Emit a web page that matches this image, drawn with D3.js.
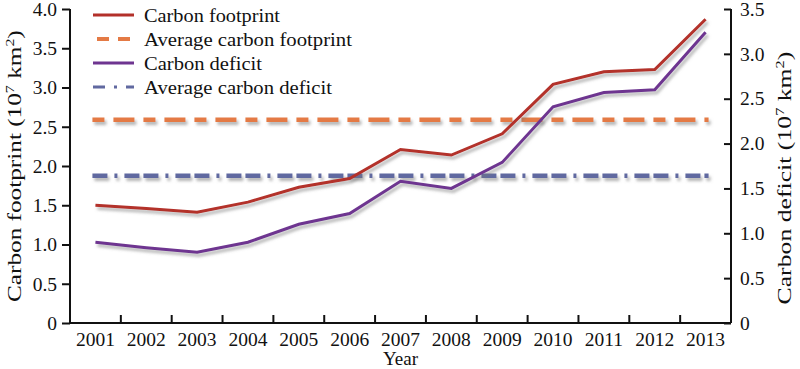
<!DOCTYPE html>
<html>
<head>
<meta charset="utf-8">
<script src="https://cdn.jsdelivr.net/npm/d3@7"></script>
<style>
  body { margin: 0; background: #fff; }
  text { font-family: "Liberation Serif", "Times New Roman", serif; fill: #111; }
</style>
</head>
<body>
<svg id="chart" width="800" height="369"></svg>
<script>
// data
var years = ["2001", "2002", "2003", "2004", "2005", "2006", "2007", "2008", "2009", "2010", "2011", "2012", "2013"];
var footprint = [1.50, 1.46, 1.41, 1.54, 1.73, 1.84, 2.21, 2.14, 2.41, 3.04, 3.20, 3.23, 3.87];
var deficit = [0.90, 0.84, 0.79, 0.90, 1.10, 1.22, 1.58, 1.50, 1.79, 2.41, 2.57, 2.60, 3.24];
var avgFootprint = 2.59;
var avgDeficit = 1.64;
var leftTicks = [0, 0.5, 1.0, 1.5, 2.0, 2.5, 3.0, 3.5, 4.0];
var rightTicks = [0, 0.5, 1.0, 1.5, 2.0, 2.5, 3.0, 3.5];

var margin = { top: 9, right: 69, bottom: 46, left: 70 };
var width = 800 - margin.left - margin.right;
var height = 369 - margin.top - margin.bottom;

var svg = d3.select("#chart");

var defs = svg.append("defs");
var f = defs.append("filter").attr("id", "shadow")
    .attr("filterUnits", "userSpaceOnUse")
    .attr("x", -100).attr("y", -100).attr("width", 1000).attr("height", 600);
f.append("feDropShadow")
    .attr("dx", 2).attr("dy", 3).attr("stdDeviation", 1.4)
    .attr("flood-color", "#777").attr("flood-opacity", 0.55);

var g = svg.append("g")
    .attr("transform", "translate(" + margin.left + "," + margin.top + ")");

var x = d3.scaleBand().domain(years).range([0, width]);
var yL = d3.scaleLinear().domain([0, 4]).range([height, 0]);
var yR = d3.scaleLinear().domain([0, 3.5]).range([height, 0]);

var fmt = function (d) { return d === 0 ? "0" : d3.format(".1f")(d); };

// left axis
var axL = g.append("g")
    .call(d3.axisLeft(yL).tickValues(leftTicks).tickFormat(fmt).tickSize(8).tickPadding(5));
// right axis, ticks inward
var axR = g.append("g").attr("transform", "translate(" + width + ",0)")
    .call(d3.axisRight(yR).tickValues(rightTicks).tickFormat(fmt).tickSize(0).tickPadding(9));
axR.selectAll(".tick line").attr("x1", -7).attr("x2", 0);
// bottom axis, ticks at band edges pointing up
var axB = g.append("g").attr("transform", "translate(0," + height + ")")
    .call(d3.axisBottom(x).tickSize(0).tickPadding(9));
axB.selectAll(".tick text").attr("dy", "0.71em");
axB.selectAll(".edge").data(years.slice(1)).enter().append("line")
    .attr("x1", function (d) { return x(d); }).attr("x2", function (d) { return x(d); })
    .attr("y1", 0).attr("y2", -8)
    .attr("stroke", "#111").attr("stroke-width", 2);
axB.append("line").attr("x1", width).attr("x2", width).attr("y1", 0).attr("y2", -8)
    .attr("stroke", "#111").attr("stroke-width", 2);

[axL, axR, axB].forEach(function (a) {
    a.select(".domain").attr("stroke", "#111").attr("stroke-width", 2);
    a.selectAll(".tick line").attr("stroke", "#111").attr("stroke-width", 2);
    a.selectAll(".tick text").attr("font-size", 19.5).attr("font-family", "Liberation Serif").attr("fill", "#111");
});
axL.select(".domain").attr("d", "M0," + height + "V0");
axR.select(".domain").attr("d", "M0," + height + "V0");
axB.select(".domain").attr("d", "M0,0H" + width);

var cx = function (d, i) { return x(years[i]) + x.bandwidth() / 2; };

var lineL = d3.line().x(cx).y(function (d) { return yL(d); });
var lineR = d3.line().x(cx).y(function (d) { return yR(d); });

var first = years[0], last = years[years.length - 1];
var x0 = x(first) + x.bandwidth() / 2 - 3, x1 = x(last) + x.bandwidth() / 2 + 3;

// average lines
g.append("line")
    .attr("x1", x0).attr("x2", x1)
    .attr("y1", yL(avgFootprint)).attr("y2", yL(avgFootprint))
    .attr("stroke", "#e47a45").attr("stroke-width", 4.5)
    .attr("stroke-dasharray", "12,9,21,9")
    .attr("filter", "url(#shadow)");

g.append("line")
    .attr("x1", x0).attr("x2", x1)
    .attr("y1", yR(avgDeficit)).attr("y2", yR(avgDeficit))
    .attr("stroke", "#6169a0").attr("stroke-width", 4.5)
    .attr("stroke-dasharray", "15,7,3,7,15,4")
    .attr("filter", "url(#shadow)");

// series
g.append("path").datum(footprint)
    .attr("d", lineL).attr("fill", "none")
    .attr("stroke", "#b3302a").attr("stroke-width", 3)
    .attr("filter", "url(#shadow)");

g.append("path").datum(deficit)
    .attr("d", lineR).attr("fill", "none")
    .attr("stroke", "#6e3590").attr("stroke-width", 3)
    .attr("filter", "url(#shadow)");

// legend
var legend = [
    { name: "Carbon footprint", color: "#b3302a", dash: null, w: 3, len: 136 },
    { name: "Average carbon footprint", color: "#e47a45", dash: "0,4,12,9,12,9", w: 4, len: 208 },
    { name: "Carbon deficit", color: "#6e3590", dash: null, w: 3, len: 118 },
    { name: "Average carbon deficit", color: "#6169a0", dash: "12,9,3,9,12", w: 3, len: 188 }
];
var lg = g.append("g").attr("transform", "translate(23,6)");
legend.forEach(function (d, i) {
    var row = lg.append("g").attr("transform", "translate(0," + (i * 24) + ")");
    row.append("line").attr("x1", 0).attr("x2", 41).attr("y1", 0).attr("y2", 0)
        .attr("stroke", d.color).attr("stroke-width", d.w)
        .attr("stroke-dasharray", d.dash);
    row.append("text").attr("x", 51).attr("y", 0).attr("dy", "0.35em")
        .attr("font-size", 19.5)
        .attr("textLength", d.len).attr("lengthAdjust", "spacingAndGlyphs")
        .text(d.name);
});

// axis titles
svg.append("text")
    .attr("text-anchor", "middle").attr("font-size", 19)
    .attr("x", margin.left + width / 2).attr("y", 365)
    .text("Year");

function title(xc, yc, label, len) {
    var gt = svg.append("g").attr("transform", "translate(" + xc + "," + yc + ") rotate(-90)");
    var t = gt.append("text").attr("font-size", 19).attr("text-anchor", "start");
    t.append("tspan").text(label + " (10");
    t.append("tspan").attr("font-size", 12).attr("dy", -7).text("7");
    t.append("tspan").attr("dy", 7).text(" km");
    t.append("tspan").attr("font-size", 12).attr("dy", -7).text("2");
    t.append("tspan").attr("dy", 7).text(")");
    // stretch to the length seen in the picture
    var w = t.node().getComputedTextLength ? t.node().getBBox().width : len;
    var s = len / w;
    t.attr("transform", "scale(" + s + ",1) translate(" + (-w / 2) + ",0)");
}
title(21, 166, "Carbon footprint", 272);
title(791, 178, "Carbon deficit", 253);
</script>
</body>
</html>
